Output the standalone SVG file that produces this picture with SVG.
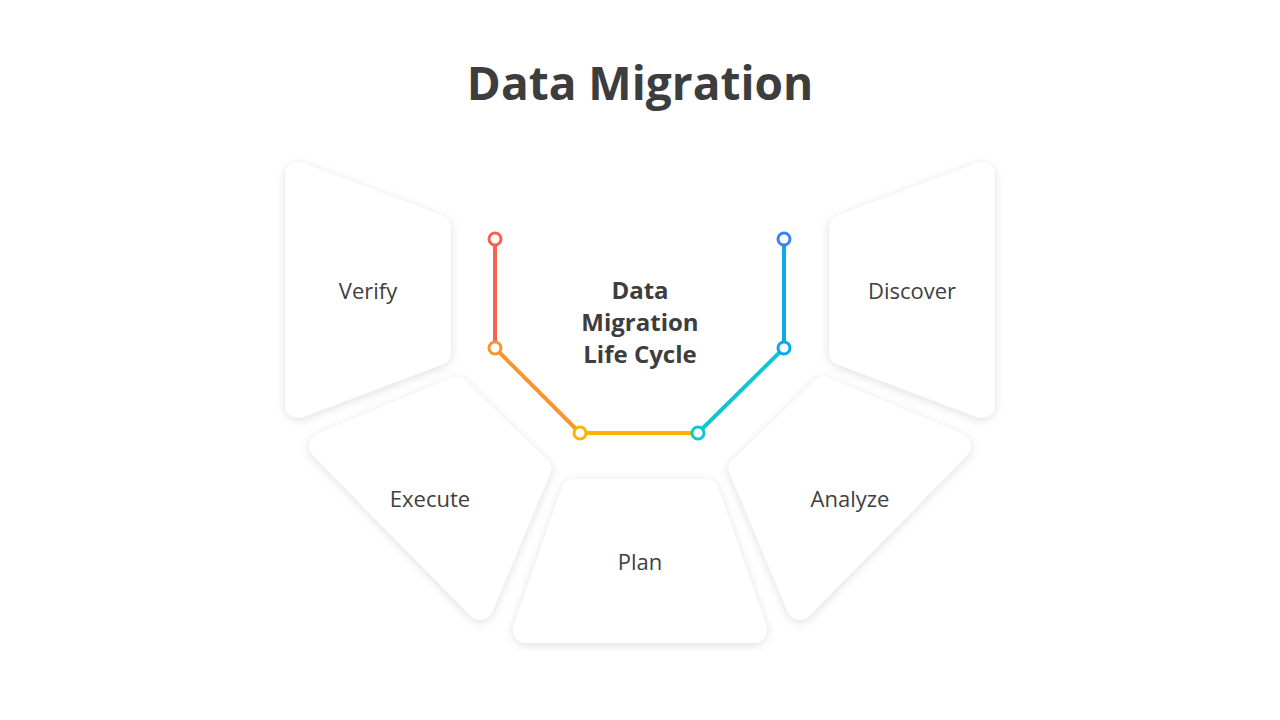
<svg xmlns="http://www.w3.org/2000/svg" width="1280" height="720" viewBox="0 0 1280 720">
<defs>
<filter id="sh" x="-20%" y="-20%" width="140%" height="140%"><feDropShadow dx="0" dy="2" stdDeviation="5" flood-color="#000" flood-opacity="0.13"/></filter>
</defs>
<style>
.card{fill:#fff;stroke:#fff;stroke-width:26;stroke-linejoin:round;filter:url(#sh)}
.lbl{font-family:"Open Sans","Liberation Sans",sans-serif;font-size:22px;fill:#404040;text-anchor:middle}
.ctr{font-family:"Open Sans","Liberation Sans",sans-serif;font-size:24px;font-weight:bold;fill:#3d3d3d;text-anchor:middle}
.seg{stroke-width:4;fill:none}
.dot{fill:#fff;stroke-width:3}
</style>
<rect width="1280" height="720" fill="#fff"/>
<text x="640" y="100" font-family="Open Sans,Liberation Sans,sans-serif" font-size="46" font-weight="bold" fill="#3d3d3d" text-anchor="middle">Data Migration</text>
<g id="verify"><polygon class="card" points="298,175 438,228 438,352 298,405"/><text class="lbl" x="368" y="299">Verify</text></g>
<g id="discover"><polygon class="card" points="982,175 842,228 842,352 982,405"/><text class="lbl" x="912" y="299">Discover</text></g>
<g id="execute"><polygon class="card" points="322,446 456,390 538,469 480,607"/><text class="lbl" x="430" y="507">Execute</text></g>
<g id="analyze"><polygon class="card" points="958,446 824,390 742,469 800,607"/><text class="lbl" x="850" y="507">Analyze</text></g>
<g id="plan"><polygon class="card" points="574,492 706,492 754,630 526,630"/><text class="lbl" x="640" y="570">Plan</text></g>
<g id="center"><text class="ctr" x="640" y="299">Data</text><text class="ctr" x="640" y="331">Migration</text><text class="ctr" x="640" y="363">Life Cycle</text></g>
<g id="connectors">
<line class="seg" stroke="#F8604F" x1="495" y1="245" x2="495" y2="342"/>
<line class="seg" stroke="#F7952E" x1="499" y1="352" x2="576" y2="429"/>
<line class="seg" stroke="#FFB300" x1="586" y1="433" x2="692" y2="433"/>
<line class="seg" stroke="#10C6D0" x1="702" y1="429" x2="780" y2="352"/>
<line class="seg" stroke="#0BA9E8" x1="784" y1="245" x2="784" y2="342"/>
<circle class="dot" stroke="#F8604F" cx="495" cy="239" r="6"/>
<circle class="dot" stroke="#F7952E" cx="495" cy="348" r="6"/>
<circle class="dot" stroke="#FFB300" cx="580" cy="433" r="6"/>
<circle class="dot" stroke="#10C6D0" cx="698" cy="433" r="6"/>
<circle class="dot" stroke="#0BA9E8" cx="784" cy="348" r="6"/>
<circle class="dot" stroke="#3B82F6" cx="784" cy="239" r="6"/>
</g>
</svg>
